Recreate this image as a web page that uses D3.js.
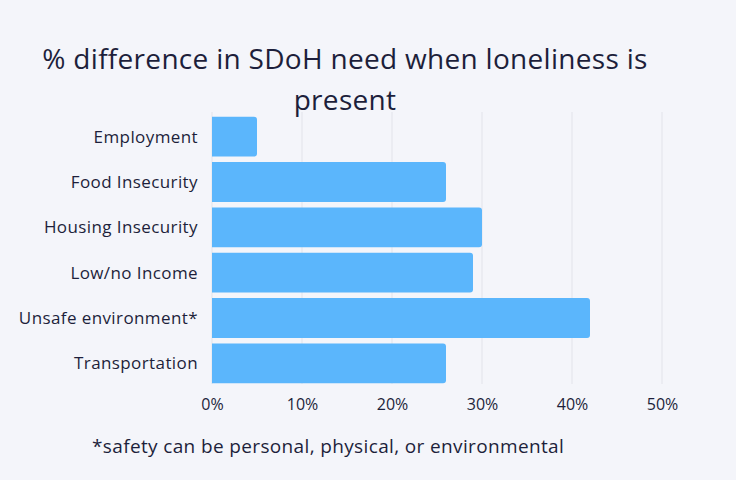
<!DOCTYPE html>
<html><head><meta charset="utf-8">
<script src="https://cdn.jsdelivr.net/npm/d3@7"></script>
<style>
html,body{margin:0;padding:0;background:#f4f5fa;}
svg{display:block;}
</style></head>
<body>
<svg id="chart" width="736" height="480"></svg>
<script>
const categories = ["Employment","Food Insecurity","Housing Insecurity","Low/no Income","Unsafe environment*","Transportation"];
const values = [5, 26, 30, 29, 42, 26];
const tickValues = [0, 10, 20, 30, 40, 50];
const tickLabels = ["0%","10%","20%","30%","40%","50%"];
const titleLines = ["% difference in SDoH need when loneliness is", "present"];
const footnote = "*safety can be personal, physical, or environmental";

const svg = d3.select("#chart");
const font = "'Open Sans', sans-serif";
const textColor = "#1d1f3b";

svg.append("rect").attr("width",736).attr("height",480).attr("fill","#f4f5fa");

const x = d3.scaleLinear().domain([0,50]).range([212,662]);
const y = d3.scaleBand().domain(categories).range([114,386]).paddingInner(0.12).paddingOuter(0.06);

// gridlines
svg.append("g").selectAll("line").data(tickValues).join("line")
  .attr("x1",d=>x(d)).attr("x2",d=>x(d))
  .attr("y1",112).attr("y2",384)
  .attr("stroke","#e2e3ea").attr("stroke-width",1);

// bars with rounded right corners
const r = 3;
svg.append("g").selectAll("path").data(categories).join("path")
  .attr("d",(c,i)=>{
    const x0 = x(0), x1 = x(values[i]), y0 = y(c), h = y.bandwidth();
    return `M${x0},${y0}H${x1-r}Q${x1},${y0} ${x1},${y0+r}V${y0+h-r}Q${x1},${y0+h} ${x1-r},${y0+h}H${x0}Z`;
  })
  .attr("fill","#5bb6fc");

// y axis labels
const yAxis = d3.axisLeft(y).tickSize(0).tickPadding(0);
const gy = svg.append("g").attr("transform","translate(198,0)").call(yAxis);
gy.select(".domain").remove();
gy.selectAll("text").attr("font-family",font).attr("font-size",17).attr("letter-spacing",0.4)
  .attr("fill",textColor).attr("dy","0.35em");

// x axis labels
const xAxis = d3.axisBottom(x).tickValues(tickValues).tickFormat((d,i)=>tickLabels[i]).tickSize(0).tickPadding(0);
const gx = svg.append("g").attr("transform","translate(0,397)").call(xAxis);
gx.select(".domain").remove();
gx.selectAll("text").attr("font-family",font).attr("font-size",16).attr("fill",textColor).attr("dy","0.8em");

// title
svg.append("g").selectAll("text").data(titleLines).join("text")
  .attr("x",345).attr("y",(d,i)=>69+i*41)
  .attr("text-anchor","middle")
  .attr("font-family",font).attr("font-size",28).attr("letter-spacing",0.3).attr("fill",textColor)
  .text(d=>d);

// footnote
svg.append("text").attr("x",92).attr("y",453)
  .attr("font-family",font).attr("font-size",19).attr("letter-spacing",0.36).attr("fill",textColor)
  .text(footnote);
</script>
</body></html>
